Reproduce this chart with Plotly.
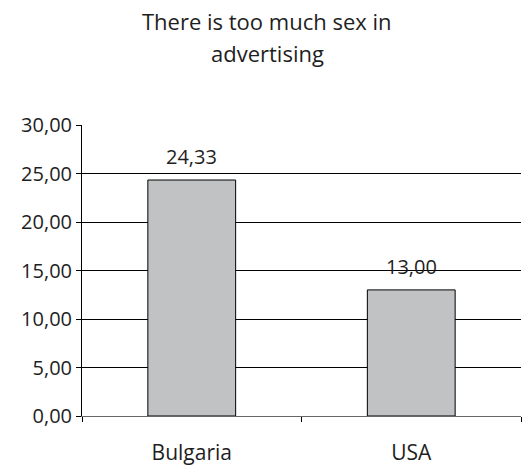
import plotly.graph_objects as go

# Survey result: share agreeing with the statement, by country
countries = ["Bulgaria", "USA"]
scores = [24.33, 13.00]
y_ticks = [0, 5, 10, 15, 20, 25, 30]
title_lines = ["There is too much sex in", "advertising"]

FONT = "Open Sans"
FS = 20
INK = "#1e1e1e"

fig = go.Figure()
fig.add_trace(go.Bar(
    x=countries,
    y=scores,
    width=0.4,
    marker=dict(color="#c0c2c4", line=dict(color="black", width=1)),
    hoverinfo="skip",
))

# value labels above each bar
for c, v in zip(countries, scores):
    fig.add_annotation(
        x=c, y=v, text=f"{v:.2f}".replace(".", ","),
        showarrow=False, yanchor="bottom", yshift=8,
        font=dict(family=FONT, size=FS, color=INK),
    )

# two-line heading, centred a little left of the plot centre
for i, line in enumerate(title_lines):
    fig.add_annotation(
        xref="paper", yref="paper",
        x=(267 - 82) / 439, y=1.357 - i * 0.109,
        xanchor="center", yanchor="middle",
        text=line, showarrow=False,
        font=dict(family=FONT, size=22, color=INK),
    )

fig.update_layout(
    width=523, height=468,
    margin=dict(l=82, r=2, t=125, b=50),
    paper_bgcolor="white", plot_bgcolor="white",
    separators=", ",
    showlegend=False,
    font=dict(family=FONT, size=FS, color=INK),
)
fig.update_xaxes(
    type="category",
    tickson="boundaries",
    ticks="outside", ticklen=5, tickcolor="black", tickwidth=1,
    showline=True, linecolor="#666", linewidth=1,
    showgrid=False,
    tickfont=dict(family=FONT, size=21, color=INK),
    ticklabelstandoff=18,
)
fig.update_yaxes(
    range=[0, 30],
    tickvals=y_ticks,
    tickformat=".2f",
    ticks="outside", ticklen=5, tickcolor="black", tickwidth=1,
    showline=True, linecolor="black", linewidth=1,
    showgrid=True, gridcolor="black", gridwidth=1,
    zeroline=False,
    tickfont=dict(family=FONT, size=FS, color=INK),
)

fig.write_html("out.html")
